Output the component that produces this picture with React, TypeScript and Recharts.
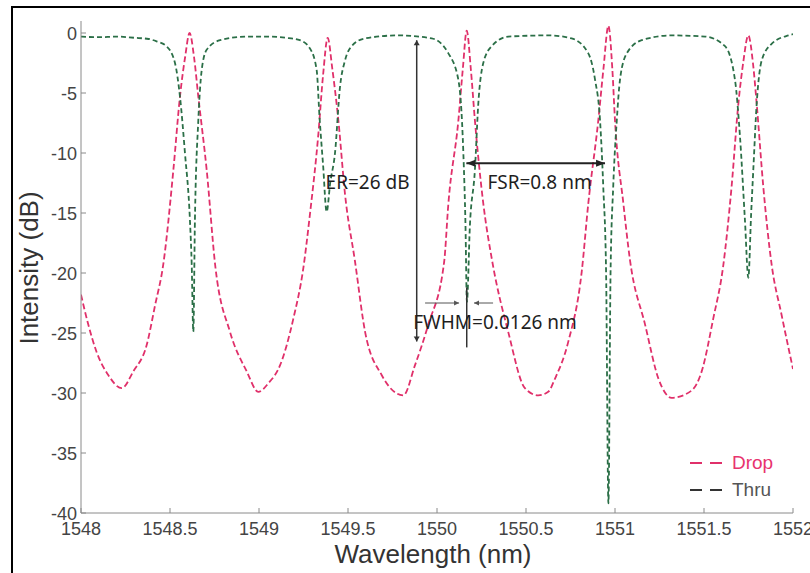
import React from 'react';
import { LineChart, Line, XAxis, YAxis, ReferenceLine, ReferenceDot, Legend, Label } from 'recharts';

// ---- Data ----
const dropWavelength = [
  1548.000, 1548.041, 1548.088, 1548.153, 1548.229, 1548.294, 1548.369, 1548.416, 1548.462, 1548.519,
  1548.556, 1548.585, 1548.610, 1548.635, 1548.659, 1548.706, 1548.755, 1548.837, 1548.931, 1548.996,
  1549.052, 1549.118, 1549.193, 1549.249, 1549.287, 1549.333, 1549.360, 1549.386, 1549.412, 1549.446,
  1549.483, 1549.539, 1549.596, 1549.689, 1549.811, 1549.876, 1549.951, 1550.040, 1550.064, 1550.120,
  1550.145, 1550.167, 1550.190, 1550.213, 1550.260, 1550.310, 1550.400, 1550.494, 1550.569, 1550.625,
  1550.663, 1550.738, 1550.813, 1550.850, 1550.906, 1550.935, 1550.963, 1550.985, 1551.000, 1551.047,
  1551.084, 1551.169, 1551.244, 1551.318, 1551.430, 1551.487, 1551.552, 1551.608, 1551.655, 1551.693,
  1551.720, 1551.749, 1551.775, 1551.796, 1551.833, 1551.880, 1551.936, 1552.000,
];
const dropIntensity = [
  -21.8, -24.3, -26.6, -28.5, -29.6, -28.2, -26.0, -22.7, -19.3, -11.4,
  -5.3, -2.0, 0.0, -2.0, -5.3, -11.4, -19.5, -24.9, -28.2, -29.9,
  -29.2, -27.7, -23.8, -19.6, -15.0, -8.5, -3.5, -0.4, -3.0, -7.3,
  -13.4, -19.0, -24.9, -28.5, -30.2, -27.7, -24.3, -19.1, -14.2, -7.3,
  -3.0, 0.2, -3.0, -7.3, -14.2, -19.0, -24.9, -29.6, -30.2, -29.9,
  -28.8, -25.7, -19.9, -14.2, -7.3, -3.0, 0.6, -3.0, -7.3, -14.2,
  -18.9, -24.3, -28.8, -30.4, -29.8, -28.2, -23.8, -19.4, -12.8, -5.9,
  -2.5, -0.2, -2.5, -5.9, -12.8, -19.3, -23.5, -28.0,
];
const thruWavelength = [
  1548.000, 1548.100, 1548.200, 1548.300, 1548.380, 1548.425, 1548.480, 1548.528, 1548.556, 1548.584,
  1548.612, 1548.622, 1548.631, 1548.640, 1548.659, 1548.678, 1548.706, 1548.781, 1548.931, 1549.050,
  1549.150, 1549.230, 1549.287, 1549.324, 1549.340, 1549.360, 1549.380, 1549.400, 1549.427, 1549.455,
  1549.483, 1549.520, 1549.596, 1549.783, 1549.970, 1550.064, 1550.120, 1550.148, 1550.160, 1550.168,
  1550.185, 1550.213, 1550.232, 1550.260, 1550.307, 1550.400, 1550.625, 1550.756, 1550.850, 1550.888,
  1550.916, 1550.934, 1550.950, 1550.963, 1550.975, 1550.990, 1551.010, 1551.028, 1551.066, 1551.150,
  1551.318, 1551.506, 1551.618, 1551.674, 1551.702, 1551.730, 1551.749, 1551.765, 1551.777, 1551.796,
  1551.824, 1551.880, 1551.974, 1552.000,
];
const thruIntensity = [
  -0.3, -0.35, -0.3, -0.4, -0.5, -0.7, -1.1, -2.5, -5.3, -10.0,
  -15.6, -19.3, -24.9, -15.6, -7.3, -3.1, -1.4, -0.6, -0.3, -0.3,
  -0.4, -0.6, -1.3, -3.1, -7.0, -11.0, -14.9, -12.5, -10.0, -4.5,
  -2.3, -1.1, -0.45, -0.2, -0.45, -1.7, -3.9, -10.0, -16.0, -22.4,
  -16.0, -11.4, -5.9, -2.5, -1.1, -0.3, -0.2, -0.45, -1.7, -3.9,
  -7.3, -12.8, -20.0, -39.2, -20.0, -12.8, -7.3, -3.9, -1.7, -0.6,
  -0.2, -0.3, -1.1, -3.9, -8.6, -15.6, -20.4, -15.0, -11.4, -5.9,
  -2.3, -0.9, -0.2, -0.1,
];
const xTicks = [1548, 1548.5, 1549, 1549.5, 1550, 1550.5, 1551, 1551.5, 1552];
const yTicks = [0, -5, -10, -15, -20, -25, -30, -35, -40];
const seriesNames = ['Drop', 'Thru'];

// annotation values (data units)
const erWavelength = 1549.886;
const erRange = [-0.6, -25.7];
const fsrLevel = -10.86;
const fsrRange = [1550.165, 1550.944];
const fwhmLevel = -22.5;
const fwhmLeft = [1549.933, 1550.124];
const fwhmRight = [1550.315, 1550.208];
const fwhmMarker = 1550.167;
const fwhmMarkerRange = [-21.2, -26.2];
const annotationTexts = [
  { text: 'ER=26 dB', x: 1549.61, y: -12.4 },
  { text: 'FSR=0.8 nm', x: 1550.576, y: -12.4 },
  { text: 'FWHM=0.0126 nm', x: 1550.326, y: -24.1 },
];

const dropData = dropWavelength.map((x, i) => ({ x, y: dropIntensity[i] }));
const thruData = thruWavelength.map((x, i) => ({ x, y: thruIntensity[i] }));

const DROP_COLOR = '#e0306a';
const THRU_COLOR = '#2b6f47';
const AXIS_COLOR = '#8a8a8a';
const TICK_FONT = '"Liberation Sans", Arial, sans-serif';

const legendStyle: Record<string, { line: string; text: string }> = {
  Drop: { line: DROP_COLOR, text: '#e8336e' },
  Thru: { line: '#333333', text: '#555555' },
};

const YTick = (props: any) => {
  const { x, y, payload } = props;
  return (
    <g>
      <line x1={x} y1={y} x2={x + 5} y2={y} stroke={AXIS_COLOR} />
      <text x={x - 4} y={y + 6.5} textAnchor="end" fontSize={18} fill="#444" fontFamily={TICK_FONT}>
        {payload.value}
      </text>
    </g>
  );
};
const XTick = (props: any) => {
  const { x, y, payload } = props;
  return (
    <g>
      <line x1={x} y1={y} x2={x} y2={y - 5} stroke={AXIS_COLOR} />
      <text x={x} y={y + 21.5} textAnchor="middle" fontSize={18} fill="#444" fontFamily={TICK_FONT}>
        {payload.value}
      </text>
    </g>
  );
};
const TopTick = (props: any) => {
  const { x, y } = props;
  return <line x1={x} y1={y} x2={x} y2={y + 5} stroke={AXIS_COLOR} />;
};
const RightTick = (props: any) => {
  const { x, y } = props;
  return <line x1={x} y1={y} x2={x - 5} y2={y} stroke={AXIS_COLOR} />;
};

const arrowShape =
  (startHead: boolean, endHead: boolean, color: string, width: number, headLen: number, headHalf: number) =>
  (p: any) => {
    const { x1, y1, x2, y2 } = p;
    const ang = Math.atan2(y2 - y1, x2 - x1);
    const head = (x: number, y: number, a: number) => {
      const bx = x - headLen * Math.cos(a);
      const by = y - headLen * Math.sin(a);
      const nx = -Math.sin(a) * headHalf;
      const ny = Math.cos(a) * headHalf;
      return `${x},${y} ${bx + nx},${by + ny} ${bx - nx},${by - ny}`;
    };
    return (
      <g>
        <line x1={x1} y1={y1} x2={x2} y2={y2} stroke={color} strokeWidth={width} />
        {endHead && <polygon points={head(x2, y2, ang)} fill={color} />}
        {startHead && <polygon points={head(x1, y1, ang + Math.PI)} fill={color} />}
      </g>
    );
  };

const renderLegend = (props: any) => {
  const payload = [...(props.payload || [])].sort(
    (a: any, b: any) => seriesNames.indexOf(a.value) - seriesNames.indexOf(b.value)
  );
  return (
    <svg width={100} height={56} style={{ overflow: 'visible' }}>
      {payload.map((item: any, i: number) => {
        const st = legendStyle[item.value] || { line: item.color, text: item.color };
        return (
          <g key={item.value} transform={`translate(0, ${13 + i * 27})`}>
            <line x1={4} y1={1} x2={36} y2={1} stroke={st.line} strokeWidth={2} strokeDasharray="12 8" />
            <text x={46} y={0} dy="0.36em" fontSize={19} fill={st.text} fontFamily={TICK_FONT}>
              {item.value}
            </text>
          </g>
        );
      })}
    </svg>
  );
};

export default function App() {
  return (
    <div style={{ position: 'absolute', left: 0, top: 0, width: 810, height: 573, background: '#fff', overflow: 'hidden' }}>
      <div
        style={{
          position: 'absolute',
          left: 11,
          top: 6,
          width: 820,
          height: 600,
          borderLeft: '2px solid #000',
          borderTop: '2px solid #000',
        }}
      />
      <div style={{ position: 'absolute', left: 0, top: 0 }}>
        <LineChart width={810} height={573} margin={{ top: 21, right: 17, left: 11, bottom: 0 }}>
          <XAxis
            dataKey="x"
            type="number"
            domain={[1548, 1552]}
            ticks={xTicks}
            interval={0}
            allowDataOverflow
            height={60}
            tickSize={0}
            tickMargin={0}
            tick={<XTick />}
            axisLine={{ stroke: AXIS_COLOR }}
          >
            <Label
              position="insideBottom"
              content={(p: any) => {
                const vb = p.viewBox;
                return (
                  <text
                    x={vb.x + vb.width / 2 - 4}
                    y={vb.y + 50}
                    textAnchor="middle"
                    fontSize={26}
                    fill="#333"
                    fontFamily={TICK_FONT}
                  >
                    Wavelength (nm)
                  </text>
                );
              }}
            />
          </XAxis>
          <XAxis
            xAxisId="top"
            orientation="top"
            type="number"
            domain={[1548, 1552]}
            ticks={xTicks}
            interval={0}
            allowDataOverflow
            height={0}
            tickSize={0}
            tickMargin={0}
            tick={<TopTick />}
            axisLine={{ stroke: AXIS_COLOR }}
          />
          <YAxis
            type="number"
            domain={[-40, 1]}
            ticks={yTicks}
            interval={0}
            allowDataOverflow
            width={70}
            tickSize={0}
            tickMargin={0}
            tick={<YTick />}
            axisLine={{ stroke: AXIS_COLOR }}
          >
            <Label
              position="insideLeft"
              content={(p: any) => {
                const vb = p.viewBox;
                const cx = vb.x + 18;
                const cy = vb.y + vb.height / 2 + 1;
                return (
                  <text
                    transform={`translate(${cx}, ${cy}) rotate(-90)`}
                    x={0}
                    y={0}
                    dy="0.36em"
                    textAnchor="middle"
                    fontSize={26}
                    fill="#333"
                    fontFamily={TICK_FONT}
                  >
                    Intensity (dB)
                  </text>
                );
              }}
            />
          </YAxis>
          <YAxis
            yAxisId="right"
            orientation="right"
            type="number"
            domain={[-40, 1]}
            ticks={yTicks}
            interval={0}
            allowDataOverflow
            width={0}
            tickSize={0}
            tickMargin={0}
            tick={<RightTick />}
            axisLine={{ stroke: AXIS_COLOR }}
          />
          <Line
            data={dropData}
            dataKey="y"
            name={seriesNames[0]}
            type="monotone"
            stroke={DROP_COLOR}
            strokeWidth={1.8}
            strokeDasharray="6 3"
            dot={false}
            activeDot={false}
            isAnimationActive={false}
          />
          <Line
            data={thruData}
            dataKey="y"
            name={seriesNames[1]}
            type="monotone"
            stroke={THRU_COLOR}
            strokeWidth={1.8}
            strokeDasharray="5 3"
            dot={false}
            activeDot={false}
            isAnimationActive={false}
          />
          <ReferenceLine
            segment={[{ x: erWavelength, y: erRange[0] }, { x: erWavelength, y: erRange[1] }]}
            shape={arrowShape(true, true, '#333', 1.5, 5, 3)}
          />
          <ReferenceLine
            segment={[{ x: fsrRange[0], y: fsrLevel }, { x: fsrRange[1], y: fsrLevel }]}
            shape={arrowShape(true, true, '#222', 2, 9, 3.5)}
          />
          <ReferenceLine
            segment={[{ x: fwhmLeft[0], y: fwhmLevel }, { x: fwhmLeft[1], y: fwhmLevel }]}
            shape={arrowShape(false, true, '#555', 1, 5, 2.5)}
          />
          <ReferenceLine
            segment={[{ x: fwhmRight[0], y: fwhmLevel }, { x: fwhmRight[1], y: fwhmLevel }]}
            shape={arrowShape(false, true, '#555', 1, 5, 2.5)}
          />
          <ReferenceLine
            segment={[{ x: fwhmMarker, y: fwhmMarkerRange[0] }, { x: fwhmMarker, y: fwhmMarkerRange[1] }]}
            shape={arrowShape(false, false, '#333', 1.5, 0, 0)}
          />
          {annotationTexts.map((a) => (
            <ReferenceDot
              key={a.text}
              x={a.x}
              y={a.y}
              r={0}
              shape={(p: any) => (
                <text
                  x={p.cx}
                  y={p.cy}
                  dy="0.36em"
                  textAnchor="middle"
                  fontSize={19}
                  fill="#1e1e1e"
                  fontFamily='"Noto Sans", "Open Sans", sans-serif'
                >
                  {a.text}
                </text>
              )}
            />
          ))}
          <Legend
            layout="vertical"
            align="center"
            verticalAlign="middle"
            wrapperStyle={{ left: 686, top: 449, width: 100, height: 56 }}
            content={renderLegend}
          />
        </LineChart>
      </div>
    </div>
  );
}
